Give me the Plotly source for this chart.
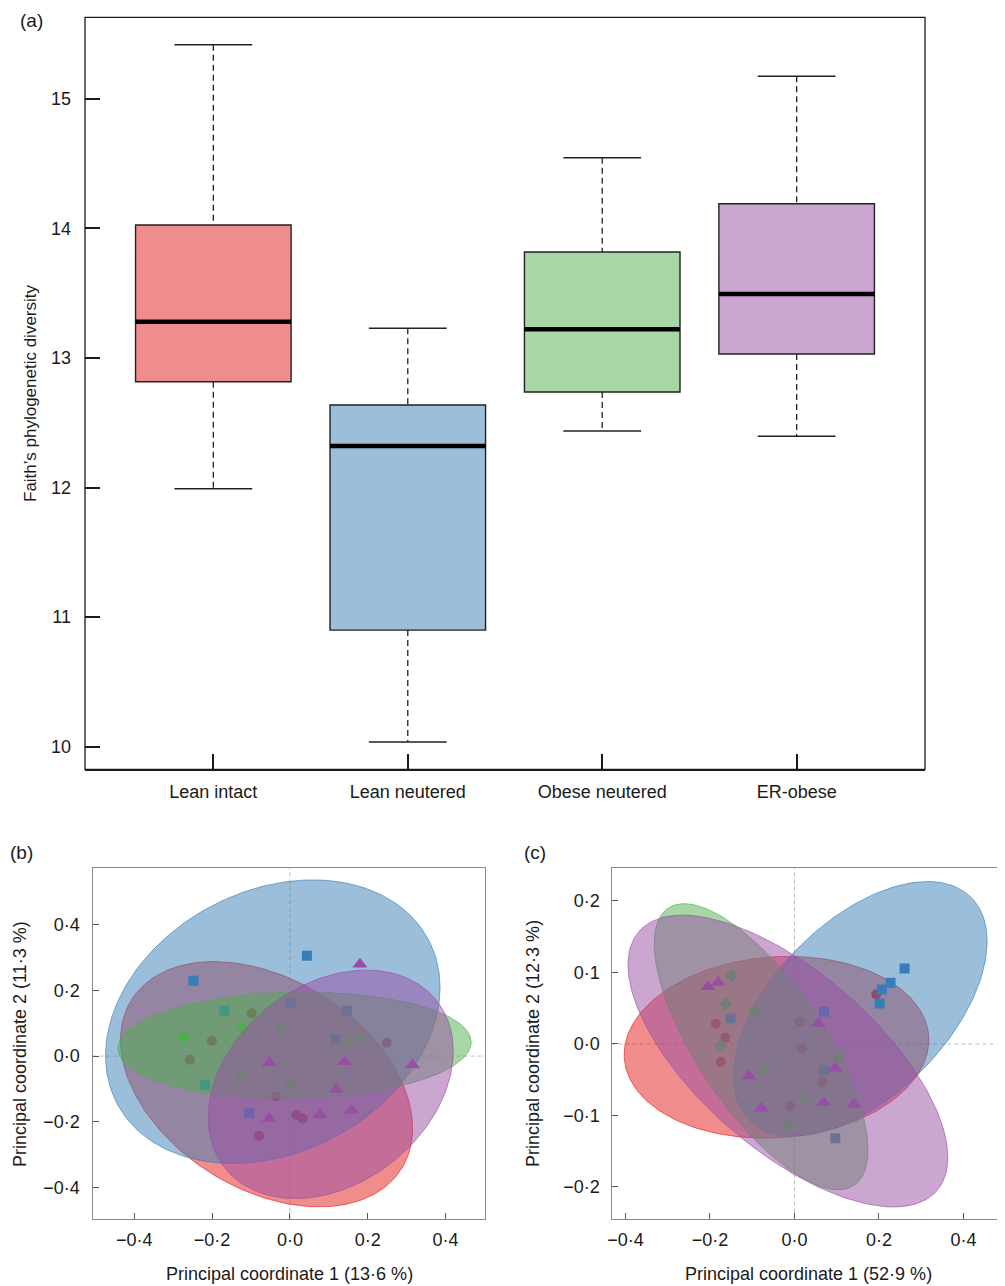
import numpy as np
import plotly.graph_objects as go

# groups, colours (RColorBrewer Set1) and symbols
groups = ["Lean intact", "Lean neutered", "Obese neutered", "ER-obese"]
colours = ["#E41A1C", "#377EB8", "#4DAF4A", "#984EA3"]
box_fill = ["#F18C8D", "#9BBEDB", "#A6D7A4", "#CBA6D1"]
symbols = ["circle", "square", "diamond", "triangle-up"]
msize = [10, 10, 10, 13]

"""## (a) Faith's phylogenetic diversity"""
pd_lower = [11.99, 10.036, 12.436, 12.395]
pd_q1 = [12.816, 10.90, 12.737, 13.03]
pd_median = [13.279, 12.320, 13.221, 13.493]
pd_q3 = [14.025, 12.637, 13.817, 14.19]
pd_upper = [15.417, 13.228, 14.545, 15.173]

"""## (b) PCoA, 13·6 % / 11·3 %"""
b_x = [
    [-0.0985, -0.2006, -0.257, -0.036, 0.017, 0.0326, -0.0797, 0.2487],
    [0.0437, -0.248, 0.0026, 0.1466, 0.1175, -0.1046, -0.169, -0.2186],
    [-0.2726, -0.1217, -0.0214, 0.18, 0.15, -0.126, 0.0],
    [0.18, -0.0532, 0.1406, 0.3155, 0.119, 0.1586, 0.0772, -0.0532],
]
b_y = [
    [0.13, 0.0466, -0.011, -0.1217, -0.179, -0.1896, -0.2423, 0.0406],
    [0.305, 0.229, 0.162, 0.138, 0.0517, -0.174, 0.138, -0.088],
    [0.0578, 0.0811, 0.082, 0.0537, 0.0436, -0.06, -0.088],
    [0.279, -0.0203, -0.0172, -0.0274, -0.1014, -0.1643, -0.1774, -0.1896],
]
# ellipses: centre, half extents and correlation
b_ell_cx = [-0.06, -0.044, 0.012, 0.105]
b_ell_cy = [-0.0855, 0.1045, 0.0325, -0.0858]
b_ell_hx = [0.3755, 0.43, 0.454, 0.315]
b_ell_hy = [0.3725, 0.4305, 0.1615, 0.347]
b_ell_r = [-0.36, 0.24, 0.06, 0.29]

"""## (c) PCoA, 52·9 % / 12·3 %"""
c_x = [
    [0.1936, -0.1863, -0.1634, -0.1745, 0.013, 0.0177, 0.066, -0.0097],
    [0.2606, 0.2275, 0.207, 0.2015, 0.0698, -0.1509, 0.0698, 0.0967],
    [-0.1492, -0.1634, -0.0958, -0.1745, -0.0745, 0.1069, 0.0201, -0.0177],
    [-0.2045, -0.1809, 0.0572, 0.0967, -0.1076, -0.0783, 0.069, 0.1407],
]
c_y = [
    [0.0691, 0.0286, 0.0085, -0.025, 0.0309, -0.0063, -0.0529, -0.0869],
    [0.1055, 0.0854, 0.0761, 0.0566, 0.0449, 0.0356, -0.0366, -0.132],
    [0.0961, 0.0566, 0.0449, -0.0026, -0.038, -0.018, -0.0748, -0.1144],
    [0.0798, 0.0859, 0.0286, -0.0342, -0.045, -0.0901, -0.0823, -0.0845],
]
c_ell_cx = [-0.0425, 0.156, -0.079, -0.0155]
c_ell_cy = [-0.0047, 0.049, -0.004, -0.024]
c_ell_hx = [0.3605, 0.30, 0.253, 0.3785]
c_ell_hy = [0.127, 0.178, 0.2, 0.204]
c_ell_r = [0.08, 0.53, -0.72, -0.66]


def rgba(hexcol, a):
    h = hexcol.lstrip("#")
    return "rgba(%d,%d,%d,%s)" % (int(h[0:2], 16), int(h[2:4], 16), int(h[4:6], 16), a)


def ellipse(cx, cy, hx, hy, r, n=200):
    t = np.linspace(0, 2 * np.pi, n)
    return cx + hx * np.cos(t), cy + hy * (r * np.cos(t) + np.sqrt(1 - r * r) * np.sin(t))


FONT = "Liberation Sans, Arial, Helvetica, sans-serif"
fig = go.Figure()

# ---- (a) boxplot
pos = list(range(1, len(groups) + 1))
for i, g in enumerate(groups):
    xi = pos[i]
    # dashed whiskers
    for lo, hi in [(pd_upper[i], pd_q3[i]), (pd_q1[i], pd_lower[i])]:
        fig.add_trace(go.Scatter(x=[xi, xi], y=[lo, hi], mode="lines",
                                 line=dict(color="#222222", width=1.3, dash="6px,4px"),
                                 showlegend=False, hoverinfo="skip", xaxis="x", yaxis="y"))
    # staples
    for v in [pd_upper[i], pd_lower[i]]:
        fig.add_trace(go.Scatter(x=[xi - 0.2, xi + 0.2], y=[v, v], mode="lines",
                                 line=dict(color="#222222", width=1.5),
                                 showlegend=False, hoverinfo="skip", xaxis="x", yaxis="y"))
    fig.add_trace(go.Box(x=[xi], q1=[pd_q1[i]], median=[pd_median[i]], q3=[pd_q3[i]],
                         lowerfence=[pd_q1[i]], upperfence=[pd_q3[i]], width=0.8,
                         fillcolor=box_fill[i], line=dict(color="#222222", width=1.4),
                         boxpoints=False, name=g, showlegend=False, xaxis="x", yaxis="y"))
    fig.add_trace(go.Scatter(x=[xi - 0.4, xi + 0.4], y=[pd_median[i], pd_median[i]], mode="lines",
                             line=dict(color="black", width=4.5),
                             showlegend=False, hoverinfo="skip", xaxis="x", yaxis="y"))

# ---- (b) and (c) PCoA
for xs, ys, ecx, ecy, ehx, ehy, er, ax in [
        (b_x, b_y, b_ell_cx, b_ell_cy, b_ell_hx, b_ell_hy, b_ell_r, "2"),
        (c_x, c_y, c_ell_cx, c_ell_cy, c_ell_hx, c_ell_hy, c_ell_r, "3")]:
    for i, g in enumerate(groups):
        ex, ey = ellipse(ecx[i], ecy[i], ehx[i], ehy[i], er[i])
        fig.add_trace(go.Scatter(x=ex, y=ey, mode="lines", fill="toself",
                                 fillcolor=rgba(colours[i], 0.5),
                                 line=dict(color=rgba(colours[i], 0.8), width=0.8),
                                 showlegend=False, hoverinfo="skip",
                                 xaxis="x" + ax, yaxis="y" + ax))
        fig.add_trace(go.Scatter(x=xs[i], y=ys[i], mode="markers", name=g,
                                 marker=dict(color=colours[i], symbol=symbols[i], size=msize[i],
                                             line=dict(width=0)),
                                 showlegend=False, xaxis="x" + ax, yaxis="y" + ax))

# the page body adds an 8 px margin, so the figure is 8 px smaller and shifted
OFF = 8
W, H = 1005 - OFF, 1286 - OFF


def dom_x(a, b):
    return [(a - OFF) / W, (b - OFF) / W]


def dom_y(top, bottom):
    return [1 - (bottom - OFF) / H, 1 - (top - OFF) / H]


tickfont = dict(family=FONT, size=18, color="#1a1a1a")
pc_ticks = [-0.4, -0.2, 0.0, 0.2, 0.4]
pc_text = ["\u22120\u00b74", "\u22120\u00b72", "0\u00b70", "0\u00b72", "0\u00b74"]
pc_axis = dict(ticks="inside", ticklen=6, tickcolor="#555555", showline=True, mirror=True,
               linewidth=1.2, linecolor="#8a8a8a", showgrid=False, zeroline=False,
               tickfont=tickfont, automargin=False)

fig.update_layout(
    width=W, height=H, margin=dict(l=0, r=0, t=0, b=0, autoexpand=False),
    paper_bgcolor="white", plot_bgcolor="white", showlegend=False,
    font=dict(family=FONT, color="#1a1a1a"),
    xaxis=dict(domain=dom_x(85, 925), range=[0.34, 4.66], tickvals=pos, ticktext=groups,
               ticks="inside", ticklen=15, tickwidth=1.5, tickcolor="#1a1a1a",
               showline=True, linewidth=2.2, linecolor="#1a1a1a", showgrid=False,
               zeroline=False, tickfont=tickfont, ticklabelstandoff=5, automargin=False),
    yaxis=dict(domain=dom_y(17.3, 769.3), range=[9.826, 15.628], tickvals=[10, 11, 12, 13, 14, 15],
               ticks="inside", ticklen=15, tickwidth=1.5, tickcolor="#1a1a1a",
               showline=False, showgrid=False, zeroline=False, tickfont=tickfont,
               ticklabelstandoff=13, automargin=False),
    xaxis2=dict(domain=dom_x(92.5, 485.3), range=[-0.5075, 0.5023], tickvals=pc_ticks, ticktext=pc_text,
                anchor="y2", ticklabelstandoff=4, **pc_axis),
    yaxis2=dict(domain=dom_y(867.5, 1219.3), range=[-0.4957, 0.5727], tickvals=pc_ticks, ticktext=pc_text,
                anchor="x2", ticklabelstandoff=8, **pc_axis),
    xaxis3=dict(domain=dom_x(611.5, 1004), range=[-0.433, 0.4959], tickvals=pc_ticks, ticktext=pc_text,
                anchor="y3", ticklabelstandoff=4, **pc_axis),
    yaxis3=dict(domain=dom_y(867.5, 1219.3), range=[-0.2452, 0.2466],
                tickvals=[-0.2, -0.1, 0.0, 0.1, 0.2],
                ticktext=["\u22120\u00b72", "\u22120\u00b71", "0\u00b70", "0\u00b71", "0\u00b72"],
                anchor="x3", ticklabelstandoff=7, **pc_axis),
)

# frame of (a)
fig.add_shape(type="rect", xref="x domain", yref="y domain", x0=0, x1=1, y0=0, y1=1,
              line=dict(color="#1a1a1a", width=1.3), layer="above")

# dashed origin lines in (b) and (c)
for ax in ["2", "3"]:
    fig.add_shape(type="line", xref="x" + ax, yref="y" + ax + " domain", x0=0, x1=0, y0=0, y1=1,
                  line=dict(color="#b5b5b5", width=0.9, dash="4px,3px"), layer="below")
    fig.add_shape(type="line", xref="x" + ax + " domain", yref="y" + ax, x0=0, x1=1, y0=0, y1=0,
                  line=dict(color="#b5b5b5", width=0.9, dash="4px,3px"), layer="below")

# titles and panel letters (positions in page pixels)
labels = [
    ("Faith\u2019s phylogenetic diversity", 30, 393, -90, 17),
    ("Principal coordinate 1 (13\u00b76 %)", 289, 1274, 0, 18),
    ("Principal coordinate 2 (11\u00b73 %)", 20, 1044, -90, 18),
    ("Principal coordinate 1 (52\u00b79 %)", 808, 1274, 0, 18),
    ("Principal coordinate 2 (12\u00b73 %)", 533, 1044, -90, 18),
    ("(a)", 31, 20, 0, 19),
    ("(b)", 21, 852, 0, 19),
    ("(c)", 535, 852, 0, 19),
]
for text, px, py, ang, sz in labels:
    fig.add_annotation(text=text, x=(px - OFF) / W, y=1 - (py - OFF) / H, xref="paper", yref="paper",
                       showarrow=False, textangle=ang, xanchor="center", yanchor="middle",
                       borderpad=0, font=dict(family=FONT, size=sz, color="#1a1a1a"))

fig.write_html("out.html")
